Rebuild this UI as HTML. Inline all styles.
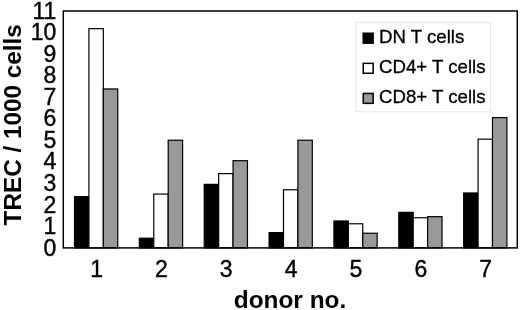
<!DOCTYPE html>
<html><head><meta charset="utf-8"><title>TREC chart</title>
<style>
html,body{margin:0;padding:0;background:#fff;}
body{width:520px;height:310px;overflow:hidden;}
svg{display:block;}
text{font-family:"Liberation Sans",sans-serif;fill:#000;}
.b{font-weight:bold;}
</style></head><body>
<svg width="520" height="310" viewBox="0 0 520 310">
<rect x="0" y="0" width="520" height="310" fill="#fff"/>
<rect x="74.51" y="196.64" width="14.41" height="51.26" fill="#000000" stroke="#000" stroke-width="1.2"/>
<rect x="88.92" y="28.66" width="14.41" height="219.24" fill="#ffffff" stroke="#000" stroke-width="1.2"/>
<rect x="103.33" y="88.96" width="14.41" height="158.94" fill="#999999" stroke="#000" stroke-width="1.2"/>
<rect x="139.37" y="238.21" width="14.41" height="9.69" fill="#000000" stroke="#000" stroke-width="1.2"/>
<rect x="153.78" y="194.06" width="14.41" height="53.84" fill="#ffffff" stroke="#000" stroke-width="1.2"/>
<rect x="168.19" y="140.22" width="14.41" height="107.68" fill="#999999" stroke="#000" stroke-width="1.2"/>
<rect x="204.22" y="184.37" width="14.41" height="63.53" fill="#000000" stroke="#000" stroke-width="1.2"/>
<rect x="218.64" y="173.60" width="14.41" height="74.30" fill="#ffffff" stroke="#000" stroke-width="1.2"/>
<rect x="233.05" y="160.68" width="14.41" height="87.22" fill="#999999" stroke="#000" stroke-width="1.2"/>
<rect x="269.08" y="232.61" width="14.41" height="15.29" fill="#000000" stroke="#000" stroke-width="1.2"/>
<rect x="283.49" y="189.75" width="14.41" height="58.15" fill="#ffffff" stroke="#000" stroke-width="1.2"/>
<rect x="297.91" y="140.22" width="14.41" height="107.68" fill="#999999" stroke="#000" stroke-width="1.2"/>
<rect x="333.94" y="220.98" width="14.41" height="26.92" fill="#000000" stroke="#000" stroke-width="1.2"/>
<rect x="348.35" y="223.78" width="14.41" height="24.12" fill="#ffffff" stroke="#000" stroke-width="1.2"/>
<rect x="362.76" y="233.26" width="14.41" height="14.64" fill="#999999" stroke="#000" stroke-width="1.2"/>
<rect x="398.80" y="212.37" width="14.41" height="35.53" fill="#000000" stroke="#000" stroke-width="1.2"/>
<rect x="413.21" y="217.75" width="14.41" height="30.15" fill="#ffffff" stroke="#000" stroke-width="1.2"/>
<rect x="427.62" y="216.67" width="14.41" height="31.23" fill="#999999" stroke="#000" stroke-width="1.2"/>
<rect x="463.65" y="192.98" width="14.41" height="54.92" fill="#000000" stroke="#000" stroke-width="1.2"/>
<rect x="478.07" y="139.14" width="14.41" height="108.76" fill="#ffffff" stroke="#000" stroke-width="1.2"/>
<rect x="492.48" y="117.61" width="14.41" height="130.29" fill="#999999" stroke="#000" stroke-width="1.2"/>
<rect x="63.30" y="11.00" width="454.00" height="236.90" fill="none" stroke="#000" stroke-width="1.5"/>
<text x="56.3" y="255.60" font-size="23" text-anchor="end" stroke="#000" stroke-width="0.4">0</text>
<text x="56.3" y="234.06" font-size="23" text-anchor="end" stroke="#000" stroke-width="0.4">1</text>
<text x="56.3" y="212.53" font-size="23" text-anchor="end" stroke="#000" stroke-width="0.4">2</text>
<text x="56.3" y="190.99" font-size="23" text-anchor="end" stroke="#000" stroke-width="0.4">3</text>
<text x="56.3" y="169.45" font-size="23" text-anchor="end" stroke="#000" stroke-width="0.4">4</text>
<text x="56.3" y="147.92" font-size="23" text-anchor="end" stroke="#000" stroke-width="0.4">5</text>
<text x="56.3" y="126.38" font-size="23" text-anchor="end" stroke="#000" stroke-width="0.4">6</text>
<text x="56.3" y="104.85" font-size="23" text-anchor="end" stroke="#000" stroke-width="0.4">7</text>
<text x="56.3" y="83.31" font-size="23" text-anchor="end" stroke="#000" stroke-width="0.4">8</text>
<text x="56.3" y="61.77" font-size="23" text-anchor="end" stroke="#000" stroke-width="0.4">9</text>
<text x="56.3" y="40.24" font-size="23" text-anchor="end" stroke="#000" stroke-width="0.4">10</text>
<text x="56.3" y="18.70" font-size="23" text-anchor="end" stroke="#000" stroke-width="0.4">11</text>
<text x="96.53" y="276.8" font-size="23" text-anchor="middle" stroke="#000" stroke-width="0.4">1</text>
<text x="161.39" y="276.8" font-size="23" text-anchor="middle" stroke="#000" stroke-width="0.4">2</text>
<text x="226.24" y="276.8" font-size="23" text-anchor="middle" stroke="#000" stroke-width="0.4">3</text>
<text x="291.10" y="276.8" font-size="23" text-anchor="middle" stroke="#000" stroke-width="0.4">4</text>
<text x="355.96" y="276.8" font-size="23" text-anchor="middle" stroke="#000" stroke-width="0.4">5</text>
<text x="420.81" y="276.8" font-size="23" text-anchor="middle" stroke="#000" stroke-width="0.4">6</text>
<text x="485.67" y="276.8" font-size="23" text-anchor="middle" stroke="#000" stroke-width="0.4">7</text>
<text class="b" x="290" y="308" font-size="24.4" text-anchor="middle">donor no.</text>
<text class="b" transform="translate(20.7,124.8) rotate(-90)" font-size="24.3" text-anchor="middle">TREC / 1000 cells</text>
<rect x="356" y="22.3" width="134.5" height="89.5" fill="#fff" stroke="#e4e4e4" stroke-width="1"/>
<rect x="363.25" y="33.25" width="9.9" height="9.9" fill="#000000" stroke="#000" stroke-width="1.5"/>
<text x="379" y="42.7" font-size="18.65" stroke="#000" stroke-width="0.3">DN T cells</text>
<rect x="363.25" y="63.35" width="9.9" height="9.9" fill="#ffffff" stroke="#000" stroke-width="1.5"/>
<text x="379" y="72.8" font-size="18.65" stroke="#000" stroke-width="0.3">CD4+ T cells</text>
<rect x="363.25" y="93.45" width="9.9" height="9.9" fill="#999999" stroke="#000" stroke-width="1.5"/>
<text x="379" y="102.9" font-size="18.65" stroke="#000" stroke-width="0.3">CD8+ T cells</text>
</svg>
</body></html>
